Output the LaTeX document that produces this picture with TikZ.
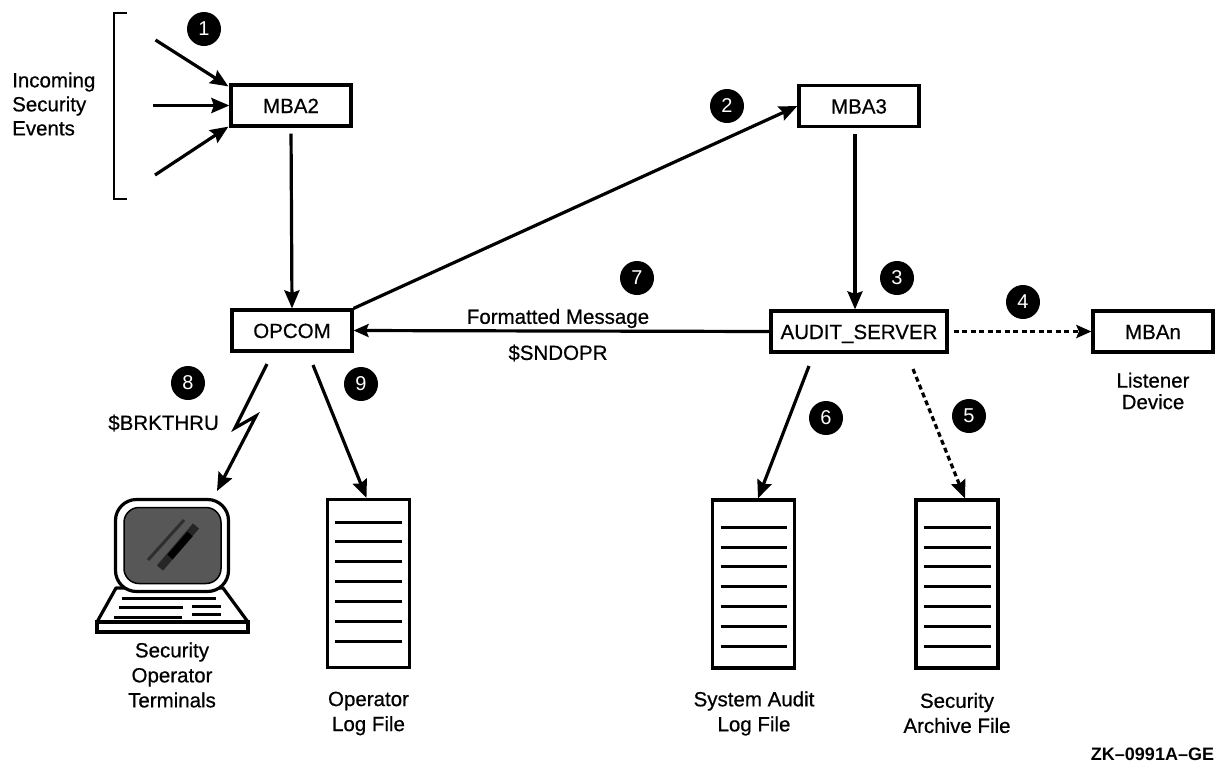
\documentclass[tikz,border=0pt]{standalone}
\usepackage{fontspec}
\setmainfont[FakeBold=0.6,BoldFeatures={FakeBold=0}]{Liberation Sans}
\newfontfamily\numfont{Liberation Sans}
\usetikzlibrary{arrows.meta,calc}
\tikzset{
  x=1pt,y=-1pt,
  box/.style={draw=black,line width=3.2pt,fill=white,minimum width=120pt,minimum height=41pt,inner sep=0pt,text height=15pt,text depth=0pt,font=\fontsize{20.5}{24}\selectfont},
  lab/.style={align=center,inner sep=0pt,font=\fontsize{20.5}{25}\selectfont},
  num/.style={circle,fill=black,text=white,minimum size=34pt,inner sep=0pt,font=\numfont\fontsize{20}{22}\selectfont},
  conn/.style={line width=3.2pt,-{Stealth[length=18pt,width=15pt,inset=2.5pt]}},
  dconn/.style={conn,dash pattern=on 5pt off 3.5pt},
  logbox/.style={draw=black,line width=3.2pt,fill=white,minimum width=82pt,minimum height=168pt,inner sep=0pt},
  rule/.style={line width=3pt},
}
\begin{document}
\begin{tikzpicture}
\useasboundingbox (0,0) rectangle (1221,764);
\fill[white] (0,0) rectangle (1221,764);
% bracket
\draw[line width=2.8pt] (127,13) -- (114,13) -- (114,199) -- (127,199);
% boxes
\node[box] (mba2) at (291,105.5) {MBA2};
\node[box] (mba3) at (859,106) {MBA3};
\node[box] (opcom) at (292,330.5) {OPCOM};
\node[box,minimum width=176pt] (audit) at (859,331.5) {AUDIT\_SERVER};
\node[box] (mban) at (1153,331.5) {MBAn};
\node[logbox] (oplog) at (368.5,583.5) {};
\node[logbox] (syslog) at (753.5,584) {};
\node[logbox] (arch) at (957,584) {};
\foreach \yy in {-61.5,-42,-22.5,-2.5,17.5,37.5,57.5}{
  \draw[rule] ($(oplog.center)+(-33.5,\yy)$) -- ($(oplog.center)+(33.5,\yy)$);}
\foreach \yy in {-57,-37,-17.5,2.5,22,42,62.5}{
  \draw[rule] ($(syslog.center)+(-33,\yy)$) -- ($(syslog.center)+(33,\yy)$);
  \draw[rule] ($(arch.center)+(-33.5,\yy)$) -- ($(arch.center)+(33.5,\yy)$);
}
% free ends
\coordinate (in1) at (155.5,40);
\coordinate (in2) at (153,105.5);
\coordinate (in3) at (155,175);
\coordinate (opa) at (267,364);
\coordinate (opb) at (313,365);
\coordinate (za) at (235,428);
\coordinate (zb) at (256,416);
\coordinate (term) at (217,491);
\coordinate (au6) at (809,366);
\coordinate (au5) at (913,369);
% terminal
\fill[white,draw=black,line width=3.2pt,line join=round] (116,588) -- (97,622) -- (248,622) -- (223,588) -- cycle;
\draw[line width=3.2pt,fill=white] (97,622) rectangle (248,632);
\node[draw=black,line width=3.2pt,fill=white,rounded corners=21pt,minimum width=113pt,minimum height=92pt,inner sep=0pt] (termtop) at (172,545.5) {};
\node[fill=black!66,draw=black,line width=1.5pt,rounded corners=15pt,minimum width=97pt,minimum height=76pt,inner sep=0pt] (screen) at (172.5,545.5) {};
\draw[black!85,line width=8pt] (160,568) -- (196,526);
\draw[black,line width=7pt] (170,557) -- (190,534);
\draw[black!82,line width=3pt] (148,560) -- (184,520);
\draw[rule] (122,598) -- (216,598);
\draw[rule] (119,607) -- (183,607);
\draw[rule] (192,606) -- (221,606);
\draw[rule] (114,617) -- (182,617);
\draw[rule] (192,614.5) -- (221,614.5);
% connectors
\draw[conn] (in1) -- ($(mba2.north west)+(-1,3)$);
\draw[conn] (in2) -- (mba2.west);
\draw[conn] (in3) -- ($(mba2.south west)+(-1,-1)$);
\draw[conn,shorten <=6pt] (mba2.south) -- (opcom.north);
\draw[conn] (opcom.north east) -- (mba3.west);
\draw[conn,shorten <=6pt] ($(mba3.south)+(-4,0)$) -- ($(audit.north)+(-4,0)$);
\draw[conn,-{Stealth[length=15pt,width=13pt,inset=2.5pt]}] (audit.west) -- (opcom.east);
\draw[dconn,shorten <=5pt,-{Stealth[length=15pt,width=13pt,inset=2.5pt]}] (audit.east) -- (mban.west);
\draw[dconn] (au5) -- ($(arch.north)+(8,0)$);
\draw[conn] (au6) -- ($(syslog.north)+(4.5,0)$);
\draw[conn] (opb) -- ($(oplog.north)+(-2,0)$);
\draw[conn,line join=miter] (opa) -- (za) -- (zb) -- (term);
% numbers
\node[num] (n1) at (204,29) {1};
\node[num] (n2) at (727,106) {2};
\node[num] (n3) at (897,278) {3};
\node[num] (n4) at (1023,302) {4};
\node[num] (n5) at (969,416) {5};
\node[num] (n6) at (826,418) {6};
\node[num] (n7) at (637,278) {7};
\node[num] (n8) at (188,383) {8};
\node[num] (n9) at (361,384) {9};
% labels
\node[lab,align=left,anchor=west,font=\fontsize{20.5}{24}\selectfont] (l1) at (12,104) {Incoming\\Security\\Events};
\node[lab] (l2) at (558,318.5) {Formatted Message};
\node[lab] (l3) at (558,353) {\$SNDOPR};
\node[lab,anchor=east] (l4) at (219,423) {\$BRKTHRU};
\node[lab,font=\fontsize{20.5}{21.5}\selectfont] (l5) at (1153,391) {Listener\\Device};
\node[lab] (l6) at (172,675) {Security\\Operator\\Terminals};
\node[lab] (l7) at (368.5,713.5) {Operator\\Log File};
\node[lab] (l8) at (754,713.5) {System Audit\\Log File};
\node[lab] (l9) at (957,713) {Security\\Archive File};
\node[lab,font=\fontsize{18}{20}\selectfont\bfseries] (l10) at (1152.5,754) {ZK–0991A–GE};
\end{tikzpicture}
\end{document}
